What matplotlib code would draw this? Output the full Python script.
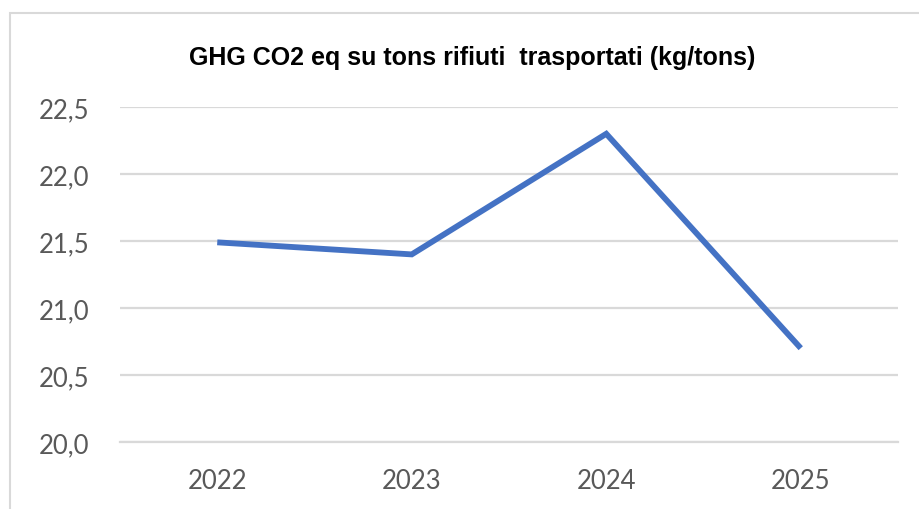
import matplotlib
matplotlib.use("Agg")
import matplotlib.pyplot as plt
from matplotlib.patches import Rectangle

# Data
years = ["2022", "2023", "2024", "2025"]
ghg_values = [21.49, 21.40, 22.30, 20.70]
y_ticks = [20.0, 20.5, 21.0, 21.5, 22.0, 22.5]
y_tick_labels = ["20,0", "20,5", "21,0", "21,5", "22,0", "22,5"]

fig = plt.figure(figsize=(9.19, 5.10), dpi=100)
ax = fig.add_axes([120 / 919, 1 - 443 / 510, 778 / 919, 335 / 510])

# Chart border (cropped on the right and bottom)
fig.patches.append(Rectangle((10 / 919, -0.1), 1.2, 1 - 14 / 510 + 0.1,
                             transform=fig.transFigure, fill=False,
                             edgecolor="#D9D9D9", linewidth=1.5, zorder=0))

x = range(len(years))
ax.plot(x, ghg_values, color="#4472C4", linewidth=4.2,
        solid_capstyle="butt", solid_joinstyle="miter", zorder=3)

ax.set_xlim(-0.5, len(years) - 0.5)
ax.set_ylim(20.0, 22.5)
ax.set_xticks(list(x))
ax.set_xticklabels(years)
ax.set_yticks(y_ticks)
ax.set_yticklabels(y_tick_labels)

for lab in ax.get_xticklabels() + ax.get_yticklabels():
    lab.set_fontfamily("Lato")
    lab.set_fontsize(18.5)
    lab.set_color("#595959")

ax.tick_params(axis="both", length=0)
ax.tick_params(axis="x", pad=19)
ax.tick_params(axis="y", pad=22)

ax.grid(axis="y", color="#D9D9D9", linewidth=1.6)
ax.set_axisbelow(True)
for side in ["top", "right", "left"]:
    ax.spines[side].set_visible(False)
ax.spines["bottom"].set_color("#D9D9D9")
ax.spines["bottom"].set_linewidth(1.6)

fig.text(472 / 919, 1 - 58 / 510,
         "GHG CO2 eq su tons rifiuti  trasportati (kg/tons)",
         ha="center", va="center", fontsize=18, fontweight="bold",
         fontfamily="Liberation Sans", color="#000000")

fig.savefig("out.png", dpi=100)
